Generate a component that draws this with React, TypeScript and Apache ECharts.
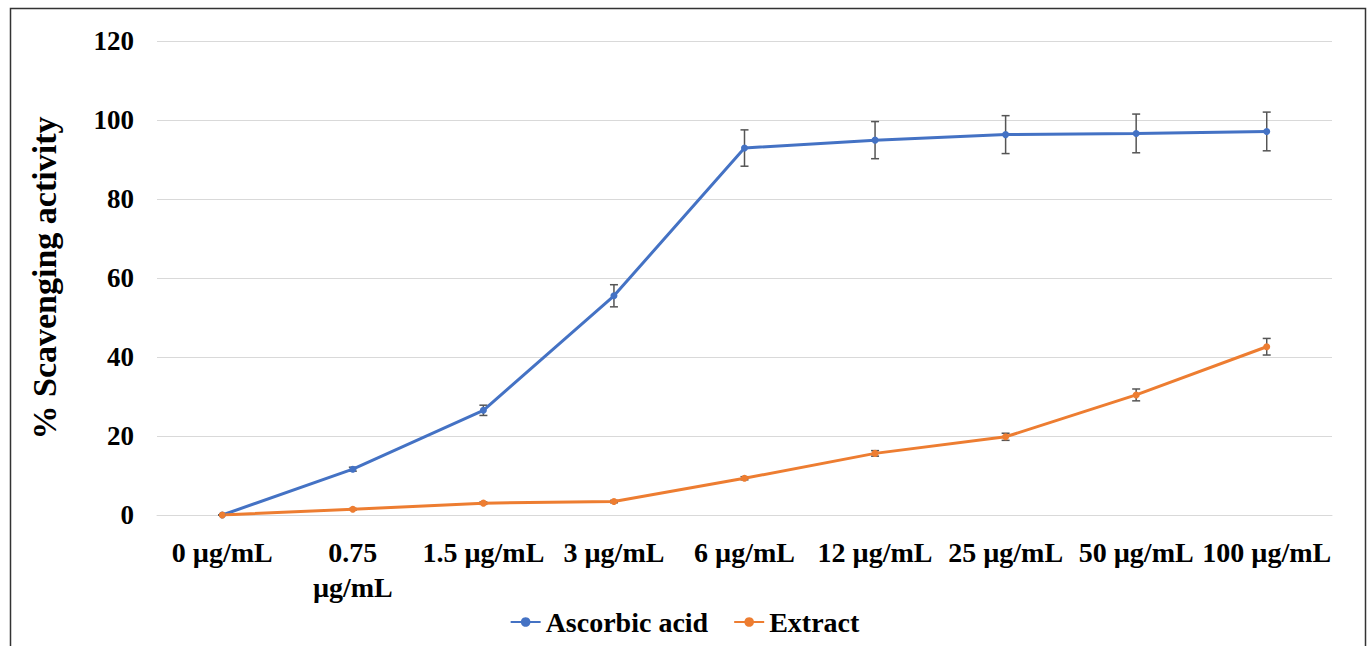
import React, { useEffect, useRef } from "react";
import * as echarts from "echarts";

const categories = ["0 µg/mL", "0.75\nµg/mL", "1.5 µg/mL", "3 µg/mL", "6 µg/mL", "12 µg/mL", "25 µg/mL", "50 µg/mL", "100 µg/mL"];
const ascorbic = [0, 11.6, 26.5, 55.5, 92.9, 94.9, 96.3, 96.6, 97.1];
const ascorbicErr = [0, 0.5, 1.3, 2.8, 4.6, 4.7, 4.8, 4.9, 4.9];
const extract = [0, 1.45, 3.0, 3.4, 9.3, 15.6, 19.8, 30.4, 42.6];
const extractErr = [0, 0.2, 0.3, 0.3, 0.4, 0.7, 0.9, 1.5, 2.1];
const yTicks = { min: 0, max: 120, interval: 20 };

const FONT = "Liberation Serif";

function errorSeries(values: number[], errs: number[], name: string) {
  return {
    type: "custom",
    name,
    z: 1,
    silent: true,
    data: values.map((v, i) => [i, v - errs[i], v + errs[i]]),
    renderItem: (params: any, api: any) => {
      const idx = api.value(0);
      const lo = api.coord([idx, api.value(1)]);
      const hi = api.coord([idx, api.value(2)]);
      const cap = 4;
      const style = { stroke: "#555555", lineWidth: 1.5 };
      return {
        type: "group",
        children: [
          { type: "line", shape: { x1: lo[0], y1: lo[1], x2: hi[0], y2: hi[1] }, style },
          { type: "line", shape: { x1: lo[0] - cap, y1: lo[1], x2: lo[0] + cap, y2: lo[1] }, style },
          { type: "line", shape: { x1: hi[0] - cap, y1: hi[1], x2: hi[0] + cap, y2: hi[1] }, style },
        ],
      };
    },
  };
}

export default function App() {
  const ref = useRef<HTMLDivElement>(null);
  useEffect(() => {
    if (!ref.current) return;
    const chart = echarts.init(ref.current, undefined, { renderer: "svg" });
    chart.setOption({
      animation: false,
      backgroundColor: "#ffffff",
      textStyle: { fontFamily: FONT, fontWeight: "bold", color: "#000" },
      grid: { left: 157, right: 37, top: 41, bottom: 131 },
      graphic: [
        {
          type: "rect",
          left: 8,
          top: 6,
          shape: { x: 0, y: 0, width: 1355, height: 700 },
          style: { fill: "none", stroke: "#333333", lineWidth: 1.5 },
          silent: true,
          z: -1,
        },
      ],
      legend: {
        data: ["Ascorbic acid", "Extract"],
        left: "center",
        top: 603,
        itemWidth: 30,
        itemHeight: 12,
        itemGap: 25,
        formatter: "{t|{name}}",
        textStyle: {
          fontFamily: FONT,
          fontWeight: "bold",
          fontSize: 28,
          color: "#000",
          rich: { t: { fontFamily: FONT, fontWeight: "bold", fontSize: 28, color: "#000" } },
        },
      },
      xAxis: {
        type: "category",
        data: categories,
        axisLine: { show: true, lineStyle: { color: "#d9d9d9", width: 1 } },
        axisTick: { show: false },
        axisLabel: {
          interval: 0,
          margin: 20,
          fontFamily: FONT,
          fontWeight: "bold",
          fontSize: 28,
          lineHeight: 35,
          color: "#000",
        },
      },
      yAxis: {
        type: "value",
        min: yTicks.min,
        max: yTicks.max,
        interval: yTicks.interval,
        name: "% Scavenging activity",
        nameLocation: "middle",
        nameGap: 96,
        nameTextStyle: { fontFamily: FONT, fontWeight: "bold", fontSize: 34, color: "#000" },
        axisLine: { show: false },
        axisTick: { show: false },
        splitLine: { lineStyle: { color: "#d9d9d9", width: 1 } },
        axisLabel: {
          margin: 23,
          fontFamily: FONT,
          fontWeight: "bold",
          fontSize: 27,
          color: "#000",
        },
      },
      series: [
        errorSeries(ascorbic, ascorbicErr, "ascErr"),
        errorSeries(extract, extractErr, "extErr"),
        {
          type: "line",
          name: "Ascorbic acid",
          data: ascorbic,
          z: 3,
          symbol: "circle",
          symbolSize: 7,
          lineStyle: { color: "#4472C4", width: 3 },
          itemStyle: { color: "#4472C4" },
        },
        {
          type: "line",
          name: "Extract",
          data: extract,
          z: 3,
          symbol: "circle",
          symbolSize: 7,
          lineStyle: { color: "#ED7D31", width: 3 },
          itemStyle: { color: "#ED7D31" },
        },
      ],
    });
    return () => chart.dispose();
  }, []);
  return <div ref={ref} style={{ position: "fixed", left: 0, top: 0, width: 1369, height: 646 }} />;
}
